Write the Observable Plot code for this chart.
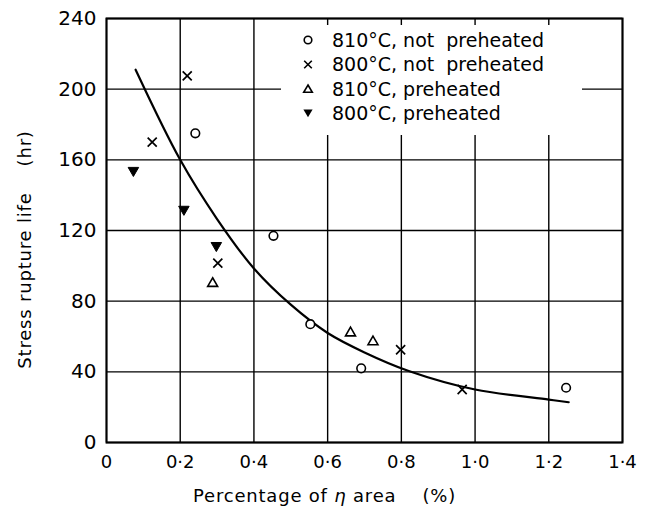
<!DOCTYPE html>
<html>
<head>
<meta charset="utf-8">
<script src="https://cdn.jsdelivr.net/npm/d3@7"></script>
<script src="https://cdn.jsdelivr.net/npm/@observablehq/plot@0.6"></script>
<style>
  body { margin: 0; background: #fff; }
  #wrap { position: relative; width: 653px; height: 511px; font-family: "DejaVu Sans", sans-serif; }
  #legend { position: absolute; left: 281px; top: 25px; }
</style>
</head>
<body>
<div id="wrap"></div>
<script>
// ---- data ----
const xTicks = [0, 0.2, 0.4, 0.6, 0.8, 1.0, 1.2, 1.4];
const xTickLabels = ["0", "0·2", "0·4", "0·6", "0·8", "1·0", "1·2", "1·4"];
const yTicks = [0, 40, 80, 120, 160, 200, 240];

const seriesNames = ["810°C, not\u00a0\u00a0preheated", "800°C, not\u00a0\u00a0preheated", "810°C, preheated", "800°C, preheated"];

// 810°C, not preheated (open circles)
const c810npX = [0.241, 0.453, 0.553, 0.691, 1.247];
const c810npY = [175, 117, 67, 42, 31];
// 800°C, not preheated (crosses)
const c800npX = [0.219, 0.124, 0.302, 0.798, 0.965];
const c800npY = [207.5, 170, 101.5, 52.5, 30];
// 810°C, preheated (open triangles)
const c810pX = [0.288, 0.662, 0.723];
const c810pY = [90, 62, 57];
// 800°C, preheated (filled inverted triangles)
const c800pX = [0.073, 0.21, 0.298];
const c800pY = [154, 132, 111.5];

// fitted curve, read at points along the drawn line
const curveX = [0.079, 0.2, 0.3, 0.4, 0.5, 0.6, 0.7, 0.82, 1.0, 1.2, 1.254];
const curveY = [211, 160, 126.5, 98.5, 78, 62, 51, 40.5, 30, 24.3, 22.8];

const xTitle = "Percentage of η area\u00a0\u00a0\u00a0\u00a0(%)";
const yTitle = "Stress rupture life\u00a0\u00a0\u00a0\u00a0(hr)";

// ---- build ----
const zip = (xs, ys) => xs.map((x, i) => ({x, y: ys[i]}));
const sqrt3 = Math.sqrt(3);
const triangleDown = {
  draw(context, size) {
    const y = -Math.sqrt(size / (sqrt3 * 3));
    context.moveTo(0, -y * 2);
    context.lineTo(-sqrt3 * y, y);
    context.lineTo(sqrt3 * y, y);
    context.closePath();
  }
};

const chart = Plot.plot({
  width: 653,
  height: 511,
  marginLeft: 106,
  marginRight: 31,
  marginTop: 18,
  marginBottom: 69,
  style: {fontFamily: "DejaVu Sans, sans-serif", color: "#000", background: "#fff"},
  x: {domain: [0, 1.4]},
  y: {domain: [0, 240]},
  marks: [
    Plot.gridX(xTicks, {stroke: "#000", strokeOpacity: 1, strokeWidth: 1.4}),
    Plot.gridY(yTicks, {stroke: "#000", strokeOpacity: 1, strokeWidth: 1.4}),
    Plot.frame({stroke: "#000", strokeWidth: 2}),
    Plot.axisX(xTicks, {tickSize: 0, tickPadding: 13, fontSize: 18, label: null,
      tickFormat: d => xTickLabels[xTicks.indexOf(d)]}),
    Plot.axisY(yTicks, {tickSize: 0, tickPadding: 10, fontSize: 20, label: null}),
    Plot.line(zip(curveX, curveY), {x: "x", y: "y", curve: "catmull-rom", stroke: "#000", strokeWidth: 2.2}),
    Plot.dot(zip(c810npX, c810npY), {x: "x", y: "y", symbol: "circle", r: 4.3, fill: "#fff", stroke: "#000", strokeWidth: 1.6}),
    Plot.dot(zip(c800npX, c800npY), {x: "x", y: "y", symbol: "times", r: 4.2, fill: "none", stroke: "#000", strokeWidth: 1.7}),
    Plot.dot(zip(c810pX, c810pY), {x: "x", y: "y", symbol: "triangle", r: 3.7, fill: "#fff", stroke: "#000", strokeWidth: 1.6}),
    Plot.dot(zip(c800pX, c800pY), {x: "x", y: "y", symbol: triangleDown, r: 3.9, fill: "#000", stroke: "#000", strokeWidth: 1}),
    Plot.text([xTitle], {text: d => d, frameAnchor: "bottom", textAnchor: "middle", dx: -40, dy: 54, lineAnchor: "middle", fontSize: 18}),
    Plot.text([yTitle], {text: d => d, frameAnchor: "left", textAnchor: "middle", dx: -81, dy: 19, rotate: -90, lineAnchor: "middle", fontSize: 18})
  ]
});

const ns = "http://www.w3.org/2000/svg";
// letter spacing for titles, italic eta
chart.querySelectorAll("text").forEach(t => {
  const s = t.textContent;
  if (s === xTitle || s === yTitle) t.setAttribute("letter-spacing", "0.8");
  if (s === xTitle) {
    const [a, b] = s.split("η");
    t.textContent = "";
    const t1 = document.createElementNS(ns, "tspan"); t1.textContent = a;
    const t2 = document.createElementNS(ns, "tspan"); t2.textContent = "η"; t2.setAttribute("font-style", "italic");
    const t3 = document.createElementNS(ns, "tspan"); t3.textContent = b;
    t.append(t1, t2, t3);
  }
});

const wrap = document.getElementById("wrap");
wrap.appendChild(chart);

// legend overlay (inside the plot frame, top right, with white box masking the grid)
const markerPaths = [
  '<circle r="3.8" fill="#fff" stroke="#000" stroke-width="1.6"/>',
  '<path d="M-3.8,-3.8L3.8,3.8M3.8,-3.8L-3.8,3.8" stroke="#000" stroke-width="1.6"/>',
  '<path d="M0,-4L4.3,3.3L-4.3,3.3Z" fill="#fff" stroke="#000" stroke-width="1.6"/>',
  '<path d="M0,4.3L4.6,-3.6L-4.6,-3.6Z" fill="#000"/>'
];
const rowCenters = [15, 39.5, 64, 88];
let inner = '<rect x="0" y="0" width="301" height="110" fill="#fff"/>';
seriesNames.forEach((name, i) => {
  inner += `<g transform="translate(27,${rowCenters[i]})">${markerPaths[i]}</g>`;
  inner += `<text x="51" y="${rowCenters[i]}" dy="0.36em" font-size="19" font-family="DejaVu Sans, sans-serif" fill="#000">${name}</text>`;
});
const legend = document.createElementNS(ns, "svg");
legend.setAttribute("id", "legend");
legend.setAttribute("width", "301");
legend.setAttribute("height", "110");
legend.innerHTML = inner;
wrap.appendChild(legend);
</script>
</body>
</html>
